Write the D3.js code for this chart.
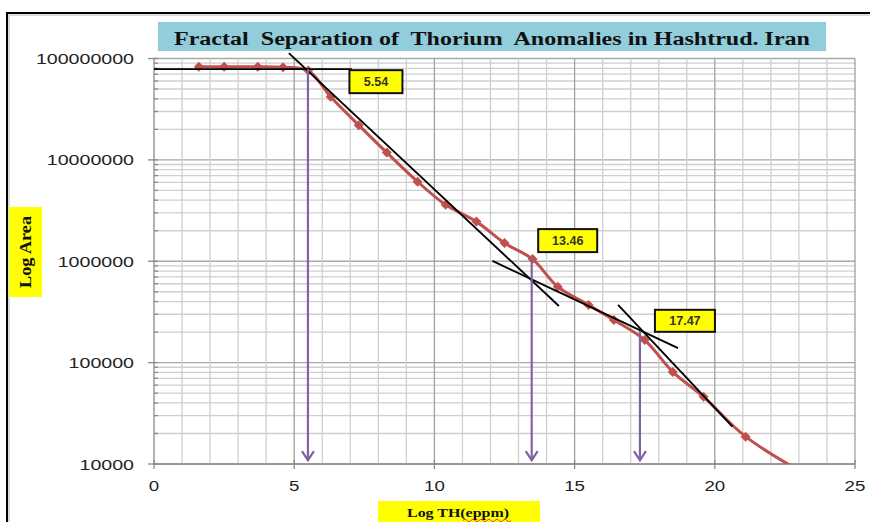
<!DOCTYPE html>
<html><head><meta charset="utf-8">
<script src="https://cdn.jsdelivr.net/npm/d3@7"></script>
<style>html,body{margin:0;padding:0;background:#fff;}svg{display:block;}</style>
</head><body>
<script>
// ---- data ----
const titleText = "Fractal  Separation of  Thorium  Anomalies in Hashtrud. Iran";
const xLabel = "Log TH(eppm)";
const yLabel = "Log Area";
const xTicks = [0, 5, 10, 15, 20, 25];
const yTicks = [1e4, 1e5, 1e6, 1e7, 1e8];
const thValues   = [1.6, 2.5, 3.7, 4.6, 5.5, 6.3, 7.3, 8.3, 9.4, 10.4, 11.5, 12.5, 13.5, 14.4, 15.5, 16.4, 17.5, 18.5, 19.6, 21.1, 23.5];
const areaValues = [8.3e7, 8.3e7, 8.3e7, 8.2e7, 7.6e7, 4.2e7, 2.2e7, 1.18e7, 6.1e6, 3.6e6, 2.46e6, 1.51e6, 1.05e6, 5.6e5, 3.7e5, 2.63e5, 1.67e5, 8.1e4, 4.6e4, 1.86e4, 7.2e3];
// fitted straight segments
const fitStartTh   = [0, 4.81, 12.07, 16.55];
const fitEndTh     = [7.06, 14.44, 18.69, 20.63];
const fitStartArea = [7.85e7, 1.13e8, 1.007e6, 3.71e5];
const fitEndArea   = [7.85e7, 3.62e5, 1.387e5, 2.34e4];
// threshold arrows
const thresholdLabels = ["5.54", "13.46", "17.47"];
const arrowTh      = [5.49, 13.47, 17.33];
const arrowTopArea = [7.85e7, 1.05e6, 2.06e5];
const arrowTipArea = 1.09e4;

// ---- layout ----
const W = 870, H = 522;
const X0 = 154, X1 = 855, Y0 = 464, Y1 = 58.5;
const svg = d3.select("body").append("svg").attr("width", W).attr("height", H);
const x = d3.scaleLinear().domain([0, 25]).range([X0, X1]);
const y = d3.scaleLog().domain([1e4, 1e8]).range([Y0, Y1]);

// outer frame (left + top)
svg.append("path").attr("d", `M7,${H} V13 H${W}`).attr("fill", "none").attr("stroke", "#000").attr("stroke-width", 2);
svg.append("path").attr("d", `M9,${H} V15 H${W}`).attr("fill", "none").attr("stroke", "#b8b8b8").attr("stroke-width", 1);

// grid
const g = svg.append("g");
const minorY = [];
for (let e = 4; e < 8; e++) for (let m = 2; m <= 9; m++) minorY.push(m * Math.pow(10, e));
g.selectAll(".hmin").data(minorY).join("line")
  .attr("x1", X0).attr("x2", X1).attr("y1", d => y(d)).attr("y2", d => y(d))
  .attr("stroke", "#cfcfcf").attr("stroke-width", 1.3);
g.selectAll(".hmaj").data(yTicks).join("line")
  .attr("x1", X0).attr("x2", X1).attr("y1", d => y(d)).attr("y2", d => y(d))
  .attr("stroke", "#a8a8a8").attr("stroke-width", 1.3);
g.selectAll(".vmin").data(d3.range(1, 26).filter(d => d % 5 !== 0)).join("line")
  .attr("x1", d => x(d)).attr("x2", d => x(d)).attr("y1", Y1).attr("y2", Y0)
  .attr("stroke", "#cfcfcf").attr("stroke-width", 1.3);
g.selectAll(".vmaj").data(xTicks.slice(1)).join("line")
  .attr("x1", d => x(d)).attr("x2", d => x(d)).attr("y1", Y1).attr("y2", Y0)
  .attr("stroke", "#a0a0a0").attr("stroke-width", 1.3);

// axes
const ax = svg.append("g").attr("stroke", "#8a8a8a").attr("stroke-width", 1.3);
ax.append("line").attr("x1", X0).attr("x2", X0).attr("y1", Y1).attr("y2", Y0);
ax.append("line").attr("x1", X0).attr("x2", X1).attr("y1", Y0).attr("y2", Y0);
ax.selectAll(".yt").data(yTicks).join("line").attr("x1", X0 - 6).attr("x2", X0 + 4).attr("y1", d => y(d)).attr("y2", d => y(d));
ax.selectAll(".ymt").data(minorY).join("line").attr("x1", X0).attr("x2", X0 + 4).attr("y1", d => y(d)).attr("y2", d => y(d));
ax.selectAll(".xt").data(xTicks).join("line").attr("x1", d => x(d)).attr("x2", d => x(d)).attr("y1", Y0 - 4).attr("y2", Y0 + 5);

// tick labels
svg.selectAll(".ylab").data(yTicks).join("text")
  .attr("x", 134).attr("y", d => y(d) + 5.5).attr("text-anchor", "end")
  .attr("font-family", "Liberation Sans, Arial, sans-serif").attr("font-size", 15).attr("fill", "#222")
  .attr("textLength", d => String(d).length * 10.9).attr("lengthAdjust", "spacingAndGlyphs")
  .text(d => String(d));
svg.selectAll(".xlab").data(xTicks).join("text")
  .attr("x", d => x(d)).attr("y", 491).attr("text-anchor", "middle")
  .attr("font-family", "Liberation Sans, Arial, sans-serif").attr("font-size", 15).attr("fill", "#222")
  .attr("textLength", d => String(d).length * 10.4).attr("lengthAdjust", "spacingAndGlyphs")
  .text(d => String(d));

// title
svg.append("rect").attr("x", 158).attr("y", 22).attr("width", 668).attr("height", 29).attr("fill", "#92cddc");
svg.append("text").attr("x", 174).attr("y", 44.5).attr("font-family", "Liberation Serif, Times New Roman, serif")
  .attr("font-weight", "bold").attr("font-size", 18.5).attr("fill", "#111").style("white-space", "pre")
  .attr("textLength", 636).attr("lengthAdjust", "spacingAndGlyphs").text(titleText);

// axis titles
svg.append("rect").attr("x", 9).attr("y", 207).attr("width", 33).attr("height", 90).attr("fill", "#ffff00");
svg.append("text").attr("transform", "translate(31,252) rotate(-90)").attr("text-anchor", "middle")
  .attr("font-family", "Liberation Serif, Times New Roman, serif").attr("font-weight", "bold").attr("font-size", 16.5)
  .attr("fill", "#111").attr("textLength", 72).attr("lengthAdjust", "spacingAndGlyphs").text(yLabel);
svg.append("rect").attr("x", 378).attr("y", 501).attr("width", 162).attr("height", 25).attr("fill", "#ffff00");
svg.append("text").attr("x", 458).attr("y", 517).attr("text-anchor", "middle")
  .attr("font-family", "Liberation Serif, Times New Roman, serif").attr("font-weight", "bold").attr("font-size", 13.5)
  .attr("fill", "#111").attr("textLength", 102).attr("lengthAdjust", "spacingAndGlyphs").text(xLabel);
// spell-check squiggle under "eppm"
let sq = "M463,520.5";
for (let i = 0; i < 12; i++) sq += ` l2,${i % 2 ? 1.5 : -1.5} l2,${i % 2 ? -1.5 : 1.5}`;
svg.append("path").attr("d", sq).attr("fill", "none").attr("stroke", "#e03030").attr("stroke-width", 0.9);

// clip
svg.append("clipPath").attr("id", "plot").append("rect").attr("x", X0).attr("y", Y1 - 8).attr("width", X1 - X0).attr("height", Y0 - Y1 + 8);

// data curve
const pts = thValues.map((t, i) => [t, areaValues[i]]);
const line = d3.line().x(d => x(d[0])).y(d => y(d[1])).curve(d3.curveCatmullRom.alpha(0.5));
const dg = svg.append("g").attr("clip-path", "url(#plot)");
dg.append("path").attr("d", line(pts)).attr("fill", "none").attr("stroke", "#c0504d").attr("stroke-width", 3);
dg.selectAll(".mk").data(pts).join("path")
  .attr("transform", d => `translate(${x(d[0])},${y(d[1])}) rotate(45)`)
  .attr("d", d3.symbol().type(d3.symbolSquare).size(50)).attr("fill", "#c0504d");

// fitted lines
svg.selectAll(".fit").data(fitStartTh).join("line")
  .attr("x1", (d, i) => x(fitStartTh[i])).attr("y1", (d, i) => y(fitStartArea[i]))
  .attr("x2", (d, i) => x(fitEndTh[i])).attr("y2", (d, i) => y(fitEndArea[i]))
  .attr("stroke", "#000").attr("stroke-width", 1.9);

// arrows
const purple = "#8064a2";
arrowTh.forEach((t, i) => {
  const ax0 = x(t), top = y(arrowTopArea[i]), tip = y(arrowTipArea);
  svg.append("line").attr("x1", ax0).attr("x2", ax0).attr("y1", top).attr("y2", tip)
    .attr("stroke", purple).attr("stroke-width", 2.2);
  svg.append("path").attr("d", `M${ax0 - 6},${tip - 9} L${ax0},${tip} L${ax0 + 6},${tip - 9}`)
    .attr("fill", "none").attr("stroke", purple).attr("stroke-width", 2.2);
});

// threshold label boxes
const boxOff = [[68, 12.5], [36, -18.5], [45, -10]];
const boxSize = [[53, 23], [59, 23], [60, 22]];
thresholdLabels.forEach((lab, i) => {
  const cx = x(arrowTh[i]) + boxOff[i][0], cy = y(arrowTopArea[i]) + boxOff[i][1];
  svg.append("rect").attr("x", cx - boxSize[i][0] / 2).attr("y", cy - boxSize[i][1] / 2)
    .attr("width", boxSize[i][0]).attr("height", boxSize[i][1])
    .attr("fill", "#ffff00").attr("stroke", "#111").attr("stroke-width", 2);
  svg.append("text").attr("x", cx).attr("y", cy + 4.5).attr("text-anchor", "middle")
    .attr("font-family", "Liberation Sans, Arial, sans-serif").attr("font-weight", "bold").attr("font-size", 12.5)
    .attr("fill", "#333").text(lab);
});
</script>
</body></html>
